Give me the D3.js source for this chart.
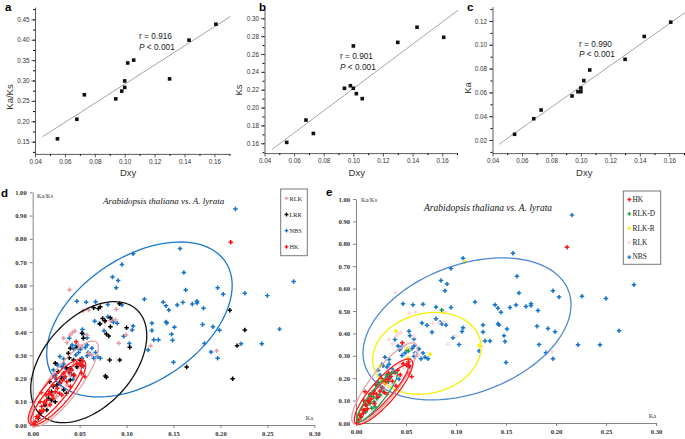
<!DOCTYPE html>
<html><head><meta charset="utf-8">
<script src="https://cdn.jsdelivr.net/npm/d3@7"></script>
<style>body{margin:0;background:#fff}svg{display:block}</style>
</head><body><svg id="c" width="685" height="439"></svg>
<script>
// ---------------- data: panels a-c ----------------
const dxy   = [0.055,0.068,0.073,0.094,0.098,0.100,0.100,0.102,0.106,0.130,0.143,0.161];
const kaksA = [0.157,0.205,0.265,0.255,0.274,0.283,0.299,0.343,0.350,0.304,0.399,0.438];
const ksB   = [0.161,0.186,0.171,0.2216,0.2245,0.2216,0.269,0.2156,0.210,0.273,0.290,0.2787];
const kaC   = [0.0248,0.0379,0.0452,0.057,0.0606,0.0637,0.0606,0.0699,0.0788,0.0878,0.107,0.119];
const fitA  = [[0.045,0.162],[0.1707,0.457]];
const fitB  = [[0.045,0.153],[0.1707,0.309]];
const fitC  = [[0.0444,0.0164],[0.1707,0.127]];
const rVals = ["0.916","0.901","0.990"];
const topYLabels = ["Ka/Ks","Ks","Ka"];
const topPanelLetters = ["a","b","c"];
const dxyTicks = [0.04,0.06,0.08,0.10,0.12,0.14,0.16];
const yTicksA = [0.15,0.20,0.25,0.30,0.35,0.40,0.45];
const yTicksB = [0.16,0.18,0.20,0.22,0.24,0.26,0.28,0.30];
const yTicksC = [0.02,0.04,0.06,0.08,0.10,0.12];

// ---------------- data: panels d-e ----------------
const kaTicks = [0,0.05,0.10,0.15,0.20,0.25,0.30];
const kaksTicks = [0,0.1,0.2,0.3,0.4,0.5,0.6,0.7,0.8,0.9,1.0];
const titleText = "Arabidopsis thaliana vs. A. lyrata";

const nbs = [
 [0.216,0.928],[0.157,0.758],[0.107,0.736],[0.095,0.69],[0.085,0.636],[0.091,0.621],[0.089,0.59],
 [0.161,0.655],[0.163,0.58],[0.197,0.59],[0.203,0.562],[0.226,0.566],[0.250,0.556],[0.278,0.617],
 [0.263,0.412],[0.244,0.349],[0.222,0.349],
 [0.047,0.532],[0.057,0.528],[0.067,0.530],[0.080,0.518],[0.095,0.516],[0.119,0.540],[0.139,0.528],
 [0.142,0.512],[0.145,0.494],[0.154,0.516],[0.160,0.527],[0.170,0.520],[0.175,0.532],[0.175,0.524],[0.182,0.502],
 [0.066,0.446],[0.071,0.436],[0.084,0.450],[0.086,0.443],[0.090,0.437],[0.107,0.425],[0.106,0.408],
 [0.127,0.437],[0.127,0.406],[0.142,0.443],[0.143,0.438],[0.151,0.420],[0.181,0.432],[0.192,0.422],[0.199,0.407],
 [0.148,0.390],[0.149,0.364],[0.129,0.366],[0.134,0.366],[0.097,0.381],[0.103,0.350],[0.183,0.350],
 [0.123,0.322],[0.190,0.314],[0.197,0.287],[0.150,0.270],[0.076,0.405],[0.053,0.410],[0.054,0.390],
 [0.058,0.375],[0.059,0.312],[0.067,0.312],
 [0.039,0.373],[0.042,0.344],[0.0435,0.327],[0.029,0.294],[0.033,0.284],[0.026,0.261],[0.027,0.255],
 [0.031,0.25],[0.033,0.262],[0.036,0.241],[0.038,0.229],[0.046,0.301],[0.049,0.312],[0.0525,0.287],
 [0.058,0.298],[0.061,0.305],[0.065,0.287],[0.069,0.294],[0.072,0.287],[0.022,0.236],[0.058,0.344],
 [0.063,0.33],[0.080,0.465],[0.024,0.214],[0.031,0.207],[0.034,0.202],[0.041,0.217],[0.043,0.196],
 [0.051,0.259],[0.054,0.251],[0.046,0.341],[0.051,0.326],[0.056,0.333]
];
const lrr = [
 [0.065,0.504],[0.070,0.501],[0.0745,0.458],[0.077,0.448],[0.0785,0.391],[0.081,0.382],[0.100,0.418],
 [0.1034,0.334],[0.082,0.279],[0.0774,0.211],[0.0785,0.205],[0.0525,0.394],[0.054,0.373],[0.040,0.33],
 [0.047,0.332],[0.038,0.308],[0.039,0.289],[0.0435,0.279],[0.024,0.265],[0.027,0.229],[0.036,0.246],
 [0.040,0.244],[0.031,0.2],[0.0285,0.183],[0.0257,0.172],[0.022,0.165],[0.020,0.143],[0.033,0.15],
 [0.036,0.136],[0.0167,0.115],[0.020,0.107],[0.024,0.1],[0.013,0.086],[0.015,0.064],[0.008,0.05],
 [0.006,0.029],[0.040,0.193],[0.0435,0.215],[0.047,0.25],[0.0506,0.279],[0.018,0.186],[0.0717,0.434],
 [0.0828,0.422],[0.072,0.508],[0.0828,0.461],[0.0927,0.279],[0.0924,0.521],[0.210,0.493],[0.226,0.408],
 [0.2177,0.341],[0.164,0.249],[0.213,0.199]
];
const rlk = [
 [0.0392,0.581],[0.0535,0.49],[0.0595,0.494],[0.0828,0.448],[0.088,0.451],[0.045,0.404],[0.040,0.387],
 [0.0424,0.398],[0.0328,0.373],[0.0364,0.354],[0.0578,0.387],[0.0917,0.351],[0.0488,0.344],[0.0525,0.337],
 [0.0595,0.308],[0.063,0.301],[0.0435,0.258],[0.0477,0.244],[0.040,0.215],[0.045,0.208],[0.0292,0.172],
 [0.0328,0.158],[0.0364,0.172],[0.022,0.129],[0.0257,0.122],[0.0203,0.1],[0.015,0.079],[0.0114,0.057],
 [0.089,0.497],[0.0767,0.444],[0.0996,0.387],[0.1256,0.341],[0.196,0.319],[0.018,0.09],[0.026,0.14],
 [0.030,0.195],[0.035,0.23],[0.050,0.27]
];
const hk = [
 [0.0025,0.014],[0.005,0.029],[0.0071,0.043],[0.0086,0.057],[0.0114,0.064],[0.0096,0.079],[0.0131,0.093],
 [0.015,0.107],[0.0185,0.086],[0.0203,0.129],[0.022,0.115],[0.0239,0.143],[0.0263,0.158],[0.0285,0.136],
 [0.0292,0.179],[0.032,0.193],[0.0346,0.208],[0.0364,0.186],[0.0392,0.226],[0.0418,0.236],[0.0442,0.215],
 [0.0471,0.265],[0.0506,0.258],[0.0525,0.272],[0.0328,0.222],[0.025,0.2],[0.0178,0.143],[0.0078,0.1],
 [0.040,0.165],[0.0142,0.129],[0.0214,0.172],[0.031,0.129],[0.0014,0.0],[0.0463,0.358],[0.0533,0.256],
 [0.0557,0.207],[0.052,0.222],[0.009,0.14],[0.0123,0.098],[0.0173,0.133],[0.0073,0.058],[0.004,0.036],
 [0.211,0.785]
];
const rlkD = [
 [0.0197,0.17],[0.0223,0.182],[0.0257,0.158],[0.014,0.125],[0.0173,0.117],[0.0207,0.11],[0.024,0.125],
 [0.0107,0.08],[0.014,0.088],[0.0157,0.066],[0.019,0.073],[0.0073,0.043],[0.0097,0.05],[0.0307,0.214],
 [0.0357,0.222],[0.0857,0.504],[0.0523,0.321],[0.0323,0.184],[0.0273,0.14],[0.005,0.025],[0.012,0.1],
 [0.028,0.19],[0.018,0.095]
];
const rlkR = [[0.0397,0.41],[0.074,0.307],[0.024,0.254],[0.052,0.289],[0.1087,0.72],[0.123,0.346],[0.0517,0.33]];

// confidence ellipses: [group, centreKa, centreKaKs, halfRangeKa, halfRangeKaKs, correlation]
const ellipsesD = [
 ["NBS",0.1137,0.4534,0.0988,0.333,0.44],
 ["LRR",0.0597,0.270,0.0618,0.260,0.44],
 ["RLK",0.0336,0.177,0.0364,0.184,0.84],
 ["HK",0.0259,0.141,0.0306,0.141,0.82],
 ["HK",0.0251,0.136,0.0270,0.129,0.90]
];
const ellipsesE = [
 ["NBS",0.111,0.42,0.104,0.317,0.34],
 ["RLK-R",0.0709,0.311,0.0542,0.1826,0.15],
 ["RLK",0.0285,0.176,0.0328,0.182,0.85],
 ["HK",0.0275,0.14,0.0292,0.146,0.85],
 ["HK",0.0265,0.132,0.0258,0.127,0.92],
 ["RLK-D",0.021,0.117,0.0203,0.1116,0.9]
];
const legendD = ["RLK","LRR","NBS","HK"];
const legendE = ["HK","RLK-D","RLK-R","RLK","NBS"];

// ---------------- styles ----------------
const ptColor = {"RLK":"#e89aa2","LRR":"#000000","NBS":"#1473c8","HK":"#ff1010","RLK-D":"#1c9a4a","RLK-R":"#f2f000","RLKe":"#f7d9df"};
const ellColorD = {"NBS":"#1b78cc","LRR":"#111","RLK":"#e6a3a6","HK":"#ff1a1a"};
const ellColorE = {"NBS":"#4e88d2","RLK-R":"#f5f000","RLK":"#e6a3a6","HK":"#ff1a1a","RLK-D":"#20a050"};

const svg = d3.select("#c");
const fmt2 = d3.format(".2f");

// ---------------- top panels ----------------
const topCfg = [
 {xr:[35,229.4], yd:[0.12,0.48], yr:[153.9,7.1], yt:yTicksA, ym:d3.range(0.125,0.48,0.025), ys:kaksA, fit:fitA,
  txt:[139,39], lab:[5,10.5], ylabX:9, ylabY:97},
 {xr:[264.5,457], yd:[0.149,0.31], yr:[153.1,9.35], yt:yTicksB, ym:d3.range(0.15,0.31,0.01), ys:ksB, fit:fitB,
  txt:[340,59], lab:[259,10.5], ylabX:238, ylabY:90},
 {xr:[492.5,684], yd:[0.009,0.132], yr:[153.1,6.7], yt:yTicksC, ym:d3.range(0.01,0.131,0.01), ys:kaC, fit:fitC,
  txt:[579,46.5], lab:[467,10.5], ylabX:467, ylabY:88}
];
topCfg.forEach((c,i)=>{
  const g = svg.append("g");
  const x = d3.scaleLinear().domain([0.04,0.17]).range(c.xr);
  const y = d3.scaleLinear().domain(c.yd).range(c.yr);
  const x0 = c.xr[0], yB = c.yr[0];
  g.append("g").attr("transform",`translate(0,${yB})`)
    .call(d3.axisBottom(x).tickValues(d3.range(0.05,0.171,0.02)).tickSize(2).tickFormat("").tickSizeOuter(0))
    .call(s=>s.select(".domain").remove());
  g.append("g").attr("transform",`translate(${x0},0)`)
    .call(d3.axisLeft(y).tickValues(c.ym).tickSize(2).tickFormat("").tickSizeOuter(0))
    .call(s=>s.select(".domain").remove());
  const ax = g.append("g").attr("transform",`translate(0,${yB})`)
    .call(d3.axisBottom(x).tickValues(dxyTicks).tickFormat(fmt2).tickSize(3.5).tickSizeOuter(0).tickPadding(2));
  const ay = g.append("g").attr("transform",`translate(${x0},0)`)
    .call(d3.axisLeft(y).tickValues(c.yt).tickFormat(fmt2).tickSize(3.5).tickSizeOuter(0).tickPadding(2));
  [ax,ay].forEach(a=>{
    a.selectAll("text").attr("font-family","Liberation Sans, Arial").attr("font-size",6.3).attr("fill","#333");
    a.selectAll("line,path").attr("stroke","#333").attr("stroke-width",0.8);
  });
  g.append("line").attr("x1",x(c.fit[0][0])).attr("y1",y(c.fit[0][1]))
   .attr("x2",x(c.fit[1][0])).attr("y2",y(c.fit[1][1])).attr("stroke","#9a9a9a").attr("stroke-width",0.9);
  g.selectAll("rect.p").data(dxy.map((d,k)=>[d,c.ys[k]])).enter().append("rect")
   .attr("x",d=>x(d[0])-1.8).attr("y",d=>y(d[1])-1.8).attr("width",3.6).attr("height",3.6).attr("fill","#111");
  const t = g.append("text").attr("x",c.txt[0]).attr("y",c.txt[1]).attr("font-family","Liberation Sans, Arial")
   .attr("font-size",8.3).attr("fill","#222");
  t.text("r = "+rVals[i]);
  const t2 = g.append("text").attr("x",c.txt[0]).attr("y",c.txt[1]+10.5).attr("font-family","Liberation Sans, Arial")
   .attr("font-size",8.3).attr("fill","#222");
  t2.append("tspan").attr("font-style","italic").text("P");
  t2.append("tspan").text(" < 0.001");
  g.append("text").attr("x",(c.xr[0]+c.xr[1])/2 - 4).attr("y",175.5).attr("text-anchor","middle")
   .attr("font-family","Liberation Sans, Arial").attr("font-size",9.5).attr("fill","#333").text("Dxy");
  g.append("text").attr("transform",`translate(${c.ylabX+3.5},${c.ylabY}) rotate(-90)`).attr("text-anchor","middle")
   .attr("font-family","Liberation Sans, Arial").attr("font-size",9.5).attr("fill","#333").text(topYLabels[i]);
  g.append("text").attr("x",c.lab[0]).attr("y",c.lab[1]).attr("font-family","Liberation Sans, Arial")
   .attr("font-weight","bold").attr("font-size",11.5).attr("fill","#000").text(topPanelLetters[i]);
});

// ---------------- bottom panels ----------------
const cross = d3.symbol().type(d3.symbolCross);
function ellipsePath(e,x,y){
  const [, cx, cy, rx, ry, rho] = e;
  const s = Math.sqrt(1-rho*rho);
  const pts = d3.range(0,361,3).map(a=>{
    const t = a*Math.PI/180;
    return [x(cx+rx*Math.cos(t)), y(cy+ry*(rho*Math.cos(t)+s*Math.sin(t)))];
  });
  return d3.line()(pts)+"Z";
}
function bottomPanel(cfg){
  const g = svg.append("g");
  const x = d3.scaleLinear().domain([0,0.30]).range(cfg.xr);
  const y = d3.scaleLinear().domain([0,1]).range(cfg.yr);
  const ax = g.append("g").attr("transform",`translate(0,${cfg.yr[0]})`)
    .call(d3.axisBottom(x).tickValues(kaTicks).tickFormat(fmt2).tickSize(3).tickSizeOuter(0).tickPadding(3));
  const ay = g.append("g").attr("transform",`translate(${cfg.xr[0]},0)`)
    .call(d3.axisLeft(y).tickValues(kaksTicks).tickFormat(fmt2).tickSize(3).tickSizeOuter(0).tickPadding(3));
  [ax,ay].forEach(a=>{
    a.selectAll("text").attr("font-family","Liberation Serif, Times New Roman").attr("font-weight","bold")
     .attr("font-size",6.6).attr("fill","#333");
    a.selectAll("line,path").attr("stroke","#666").attr("stroke-width",0.8);
  });
  cfg.groups.forEach(([data,key,sz])=>{
    g.append("g").selectAll("path").data(data).enter().append("path")
     .attr("transform",d=>`translate(${x(d[0])},${y(d[1])})`).attr("d",cross.size(sz)()).attr("fill",ptColor[key]);
  });
  cfg.ells.forEach(e=>{
    g.append("path").attr("d",ellipsePath(e,x,y)).attr("fill","none")
     .attr("stroke",cfg.ellColor[e[0]]).attr("stroke-width",1.3);
  });
  g.append("text").attr("x",cfg.title[0]).attr("y",cfg.title[1]).attr("font-family","Liberation Serif, Times New Roman")
   .attr("font-style","italic").attr("font-size",cfg.title[2]).attr("fill","#111").text(titleText);
  g.append("text").attr("x",cfg.ylab[0]).attr("y",cfg.ylab[1]).attr("font-family","Liberation Serif, Times New Roman")
   .attr("font-size",6.3).attr("fill","#333").text("Ka/Ks");
  g.append("text").attr("x",cfg.xlab[0]).attr("y",cfg.xlab[1]).attr("text-anchor","end").attr("font-family","Liberation Serif, Times New Roman")
   .attr("font-size",6.3).attr("fill","#333").text("Ka");
  g.append("text").attr("x",cfg.letter[0]).attr("y",cfg.letter[1]).attr("font-family","Liberation Sans, Arial")
   .attr("font-weight","bold").attr("font-size",11.5).attr("fill","#000").text(cfg.letter[2]);
  const L = cfg.legend;
  g.append("rect").attr("x",L.box[0]).attr("y",L.box[1]).attr("width",L.box[2]).attr("height",L.box[3])
   .attr("fill","#fff").attr("stroke","#777").attr("stroke-width",1);
  L.items.forEach((k,j)=>{
    const yy = L.y0 + j*L.dy;
    g.append("path").attr("transform",`translate(${L.mx},${yy})`).attr("d",cross.size(8)())
     .attr("fill",ptColor[L.keys ? L.keys[j] : k]);
    g.append("text").attr("x",L.tx).attr("y",yy+2.3).attr("font-family","Liberation Serif, Times New Roman")
     .attr("font-size",L.fs).attr("fill","#222").text(k);
  });
}
bottomPanel({
  xr:[32.7,314.3], yr:[425,192.3],
  groups:[[nbs,"NBS",11],[rlk,"RLK",11],[lrr,"LRR",11],[hk,"HK",11]],
  ells:ellipsesD, ellColor:ellColorD,
  title:[103,204,9], ylab:[37,198], xlab:[313,420], letter:[1,197,"d"],
  legend:{box:[280.7,189,26.6,66.7], items:legendD, y0:198.3, dy:16.2, mx:286.5, tx:289.5, fs:6.3}
});
bottomPanel({
  xr:[356,656], yr:[423,199],
  groups:[[nbs,"NBS",11],[rlk,"RLKe",11],[rlkR,"RLK-R",11],[rlkD,"RLK-D",11],[hk,"HK",11]],
  ells:ellipsesE, ellColor:ellColorE,
  title:[424,211,9.5], ylab:[361,202], xlab:[656,418], letter:[326,196,"e"],
  legend:{box:[623.3,191,37.4,73.3], items:legendE, keys:["HK","RLK-D","RLK-R","RLKe","NBS"], y0:199.5, dy:14.4, mx:629.3, tx:632.5, fs:7.4}
});
</script></body></html>
